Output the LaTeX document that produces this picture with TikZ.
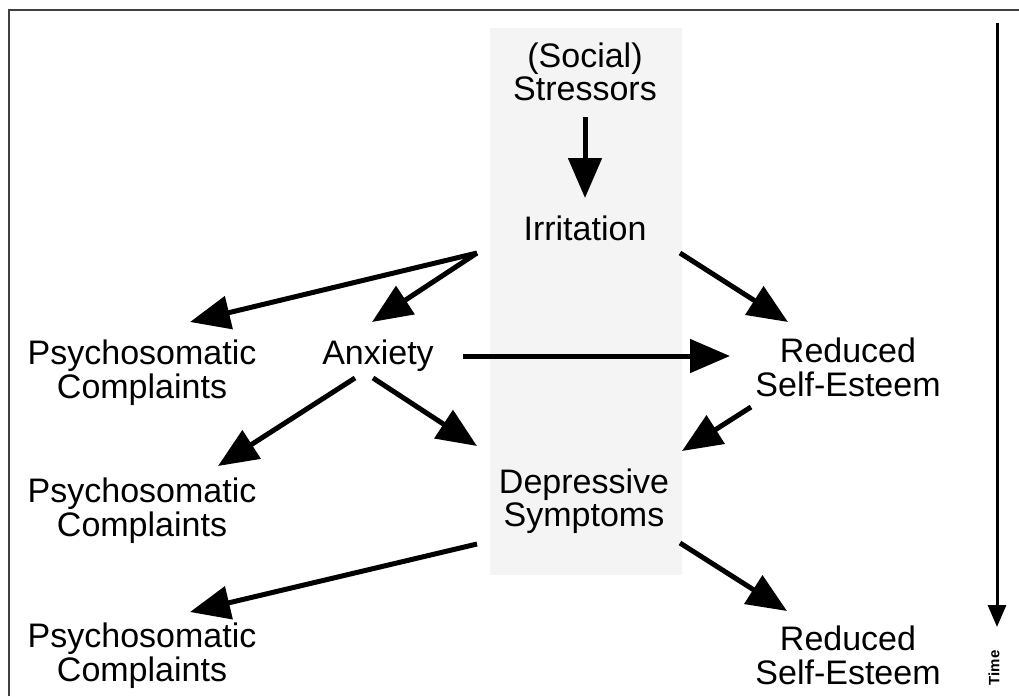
\documentclass[tikz,border=0pt]{standalone}
\usepackage{fontspec}
\setmainfont{Liberation Sans}
\usetikzlibrary{arrows.meta,calc}

% two centred lines; the node's base is the baseline of the first line
\newcommand{\twoline}[2]{\begin{tabular}[t]{@{}c@{}}#1\\#2\end{tabular}}

\tikzset{
  lbl/.style={anchor=base, inner sep=0pt, font=\fontsize{34}{33}\selectfont},
  flow/.style={line width=5pt, -{Triangle[length=40pt,width=33pt]}},
  timeline/.style={line width=3pt, -{Triangle[length=22pt,width=18pt]}},
  frameline/.style={line width=2pt, black!75},
}

\begin{document}
\begin{tikzpicture}[x=1pt, y=-1pt]
  \useasboundingbox (0,0) rectangle (1019,696);

  % shaded column behind the central chain
  \shade[top color=gray!9, middle color=gray!17, bottom color=gray!9]
    (490,28) rectangle (682,574);

  % frame
  \draw[frameline] (9,696) -- (9,10) -- (1019,10);

  % concepts
  \node[lbl] (str)  at (585,67)  {\twoline{(Social)}{Stressors}};
  \node[lbl] (irr)  at (585,240) {Irritation};
  \node[lbl] (pc1)  at (142,364) {\twoline{Psychosomatic}{Complaints}};
  \node[lbl] (anx)  at (378,364) {Anxiety};
  \node[lbl] (rse1) at (848,362) {\twoline{Reduced}{Self-Esteem}};
  \node[lbl] (pc2)  at (142,502) {\twoline{Psychosomatic}{Complaints}};
  \node[lbl] (dep)  at (584,493) {\twoline{Depressive}{Symptoms}};
  \node[lbl] (pc3)  at (142,647) {\twoline{Psychosomatic}{Complaints}};
  \node[lbl] (rse2) at (848,650) {\twoline{Reduced}{Self-Esteem}};

  % causal paths
  \draw[flow] ($(str.base)+(0,50)$)     -- ($(irr.base)+(0,-42)$);
  \draw[flow] ($(irr.base)+(-108,13)$)  -- ($(pc1.base)+(48,-42)$);
  \draw[flow] ($(irr.base)+(-108,13)$)  -- ($(anx.base)+(-6,-42)$);
  \draw[flow] ($(irr.base)+(95,13)$)    -- ($(rse1.base)+(-60,-40)$);
  \draw[flow] ($(anx.base)+(85,-8)$)    -- ($(rse1.base)+(-118,-6)$);
  \draw[flow] ($(rse1.base)+(-97,45)$)  -- ($(dep.base)+(98,-42)$);
  \draw[flow] ($(anx.base)+(-23,14)$)   -- ($(pc2.base)+(76,-36)$);
  \draw[flow] ($(anx.base)+(-5,14)$)    -- ($(dep.base)+(-107,-47)$);
  \draw[flow] ($(dep.base)+(-107,51)$)  -- ($(pc3.base)+(48,-35)$);
  \draw[flow] ($(dep.base)+(96,50)$)    -- ($(rse2.base)+(-61,-39)$);

  % time axis
  \coordinate (tstart) at (997,23);
  \coordinate (tend)   at (997,627);
  \draw[timeline] (tstart) -- (tend);
  \node[rotate=90, inner sep=0pt, font=\fontsize{15}{15}\selectfont\bfseries]
    (time) at (994,668) {Time};
\end{tikzpicture}
\end{document}
